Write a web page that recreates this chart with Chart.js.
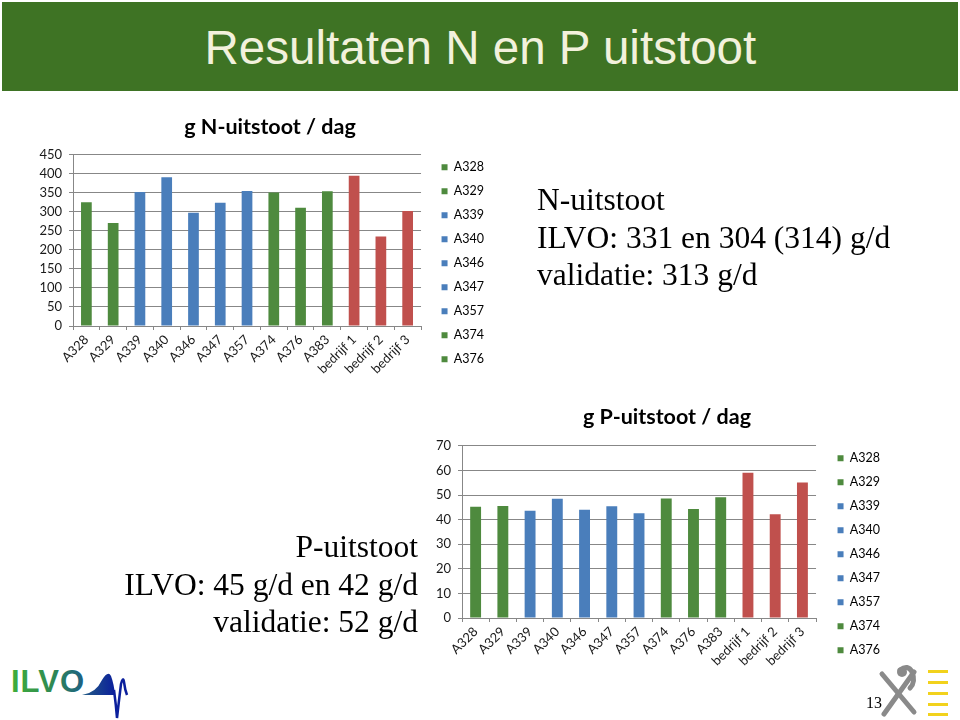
<!DOCTYPE html>
<html>
<head>
<meta charset="utf-8">
<script src="https://cdn.jsdelivr.net/npm/chart.js@4.4.1/dist/chart.umd.min.js"></script>
<style>
  body { margin: 0; width: 960px; height: 720px; background: #fff; position: relative; overflow: hidden; }
  #titelbalk { position: absolute; left: 2px; top: 2px; width: 956px; height: 89px; background: #3e7324; }
  #titel { position: absolute; left: 0; top: 22px; width: 956px; text-align: center; white-space: nowrap;
           font-family: "Liberation Sans Narrow", "Liberation Sans", Arial, sans-serif; font-size: 48px; line-height: 48px; color: #f2f1dc; }
  #titel span { display: inline-block; transform-origin: center; }
  canvas { position: absolute; }
  .tekst { position: absolute; font-family: "Liberation Serif", "Times New Roman", serif; font-size: 31.5px; line-height: 37.5px; color: #000; white-space: nowrap; }
  #nTekst { left: 537px; top: 181px; }
  #pTekst { right: 542px; top: 528px; text-align: right; }
  #pagina { position: absolute; left: 866px; top: 694px; font-family: "Liberation Serif", serif; font-size: 16px; color: #000; }
</style>
</head>
<body>
<div id="titelbalk"><div id="titel"><span id="titelSpan">Resultaten N en P uitstoot</span></div></div>

<canvas id="chartN" width="540" height="280" style="left:0px;top:100px"></canvas>
<canvas id="chartP" width="534" height="280" style="left:400px;top:390px"></canvas>

<div class="tekst" id="nTekst">N-uitstoot<br>ILVO: 331 en 304 (314) g/d<br>validatie: 313 g/d</div>
<div class="tekst" id="pTekst">P-uitstoot<br>ILVO: 45 g/d en 42 g/d<br>validatie: 52 g/d</div>

<!-- ILVO logo -->
<svg style="position:absolute;left:0;top:660px" width="140" height="60">
  <defs>
    <linearGradient id="ilvoTxt" x1="0" x2="1"><stop offset="0" stop-color="#3fae3a"/><stop offset="0.55" stop-color="#2f8a52"/><stop offset="1" stop-color="#1d5e86"/></linearGradient>
    <linearGradient id="ilvoLijn" x1="0" x2="1"><stop offset="0" stop-color="#52b043"/><stop offset="0.6" stop-color="#2b6f7d"/><stop offset="1" stop-color="#0b1f9c"/></linearGradient>
  </defs>
  <text x="11" y="32" font-family="Liberation Sans" font-weight="bold" font-size="31" letter-spacing="1" fill="url(#ilvoTxt)">ILVO</text>
  <path d="M10 35 L82 35 Q96 33 102 20 Q108 10 111 16 Q114 24 115 35 Z" fill="url(#ilvoLijn)"/>
  <path d="M10 35 L86 35" stroke="url(#ilvoLijn)" stroke-width="2"/>
  <path d="M114 30 Q116 45 117 58 Q119 40 121 24 Q123 16 124 22 Q125 30 127 35" stroke="#0b1f9c" stroke-width="2.5" fill="none"/>
</svg>

<!-- Vlaamse leeuw -->
<svg style="position:absolute;left:870px;top:662px" width="90" height="58">
  <g stroke="#8a8a8a" stroke-width="5" stroke-linecap="round" fill="none">
    <path d="M12 12 L44 50"/>
    <path d="M44 10 L14 52"/>
    <path d="M30 8 Q38 2 42 10 Q46 20 40 26"/>
  </g>
  <circle cx="32" cy="10" r="5" fill="#8a8a8a"/>
  <g fill="#f2d21c">
    <rect x="58" y="8" width="20" height="3"/>
    <rect x="58" y="19" width="20" height="3"/>
    <rect x="58" y="30" width="20" height="3"/>
    <rect x="58" y="41" width="20" height="3"/>
    <rect x="58" y="51" width="20" height="3"/>
  </g>
</svg>
<div id="pagina">13</div>

<script>
// ===== data =====
const categorieen = ['A328', 'A329', 'A339', 'A340', 'A346', 'A347', 'A357', 'A374', 'A376', 'A383', 'bedrijf 1', 'bedrijf 2', 'bedrijf 3'];
const nUitstoot = [325, 271, 352, 391, 298, 324, 355, 351, 311, 354, 395, 235, 302];
const pUitstoot = [45.2, 45.5, 43.6, 48.5, 44.0, 45.4, 42.6, 48.6, 44.3, 49.1, 59.0, 42.2, 55.1];
const nTitel = 'g N-uitstoot / dag';
const pTitel = 'g P-uitstoot / dag';
const legendaAantal = 9; // de legende in de dia toont maar de eerste 9

// kleuren per staaf
const GROEN = '#4e8a3e', BLAUW = '#4a7ebb', ROOD = '#c0504d';
const kleuren = [GROEN, GROEN, BLAUW, BLAUW, BLAUW, BLAUW, BLAUW, GROEN, GROEN, GROEN, ROOD, ROOD, ROOD];

const tekstKleur = '#1a1a1a';
const lijnKleur = '#878787';
const lettertype = { family: 'Lato', size: 13 };
const legendaLetter = { family: 'Lato', size: 12.5 };

// ===== grafiek maken =====
function maakGrafiek(id, titel, waarden, yMax, stap, maat) {
  const ctx = document.getElementById(id);

  return new Chart(ctx, {
    type: 'bar',
    data: {
      labels: categorieen,
      datasets: [{
        label: titel,
        data: waarden,
        backgroundColor: kleuren,
        barPercentage: 0.4,
        categoryPercentage: 1,
        xAxisID: 'x',
        yAxisID: 'y'
      }]
    },
    options: {
      responsive: false,
      animation: false,
      layout: { padding: { bottom: maat.padOnder } },
      plugins: {
        title: {
          display: true,
          text: titel,
          color: '#000',
          font: { family: 'Lato', size: 21.5, weight: 'bold' },
          padding: { top: maat.titelBoven, bottom: maat.titelOnder }
        },
        legend: {
          position: 'right',
          align: 'end',
          labels: {
            boxWidth: 6,
            boxHeight: 6,
            padding: 11.5,
            color: tekstKleur,
            font: legendaLetter,
            generateLabels: () => categorieen.slice(0, legendaAantal).map((c, i) => ({
              text: c, fillStyle: kleuren[i], strokeStyle: kleuren[i], lineWidth: 0, hidden: false, index: i
            }))
          }
        },
        tooltip: { enabled: false }
      },
      scales: {
        x: {
          grid: { offset: true, drawOnChartArea: false, tickLength: 4, color: lijnKleur },
          border: { color: lijnKleur },
          ticks: { minRotation: 45, maxRotation: 45, autoSkip: false, padding: 2, color: tekstKleur, font: lettertype },
          afterFit: s => { s.height = maat.xHoogte; }
        },
        y: {
          min: 0,
          max: yMax,
          ticks: { stepSize: stap, padding: 7, color: tekstKleur, font: lettertype },
          grid: { color: lijnKleur, tickLength: 4 },
          border: { color: lijnKleur },
          afterFit: s => { s.width = maat.yBreedte; }
        },
        // lege assen om de legende op de juiste plek te krijgen
        ruimteIn: {
          type: 'linear', axis: 'y', position: 'right', weight: 0,
          grid: { display: false }, ticks: { display: false }, border: { display: false },
          afterFit: s => { s.width = maat.ruimteIn; }
        },
        ruimteUit: {
          type: 'linear', axis: 'y', position: 'right', weight: 2000,
          grid: { display: false }, ticks: { display: false }, border: { display: false },
          afterFit: s => { s.width = maat.ruimteUit; }
        }
      }
    }
  });
}

// ===== init =====
function init() {
  const span = document.getElementById('titelSpan');
  span.style.transform = 'scaleX(' + (552 / span.offsetWidth) + ')';

  maakGrafiek('chartN', nTitel, nUitstoot, 450, 50,
    { yBreedte: 73, ruimteIn: 9, ruimteUit: 46, titelBoven: 14, titelOnder: 15, padOnder: 3, xHoogte: 51 });
  maakGrafiek('chartP', pTitel, pUitstoot, 70, 10,
    { yBreedte: 62, ruimteIn: 10, ruimteUit: 44, titelBoven: 14, titelOnder: 16, padOnder: 2, xHoogte: 50 });
}

window.onload = init;
</script>
</body>
</html>
